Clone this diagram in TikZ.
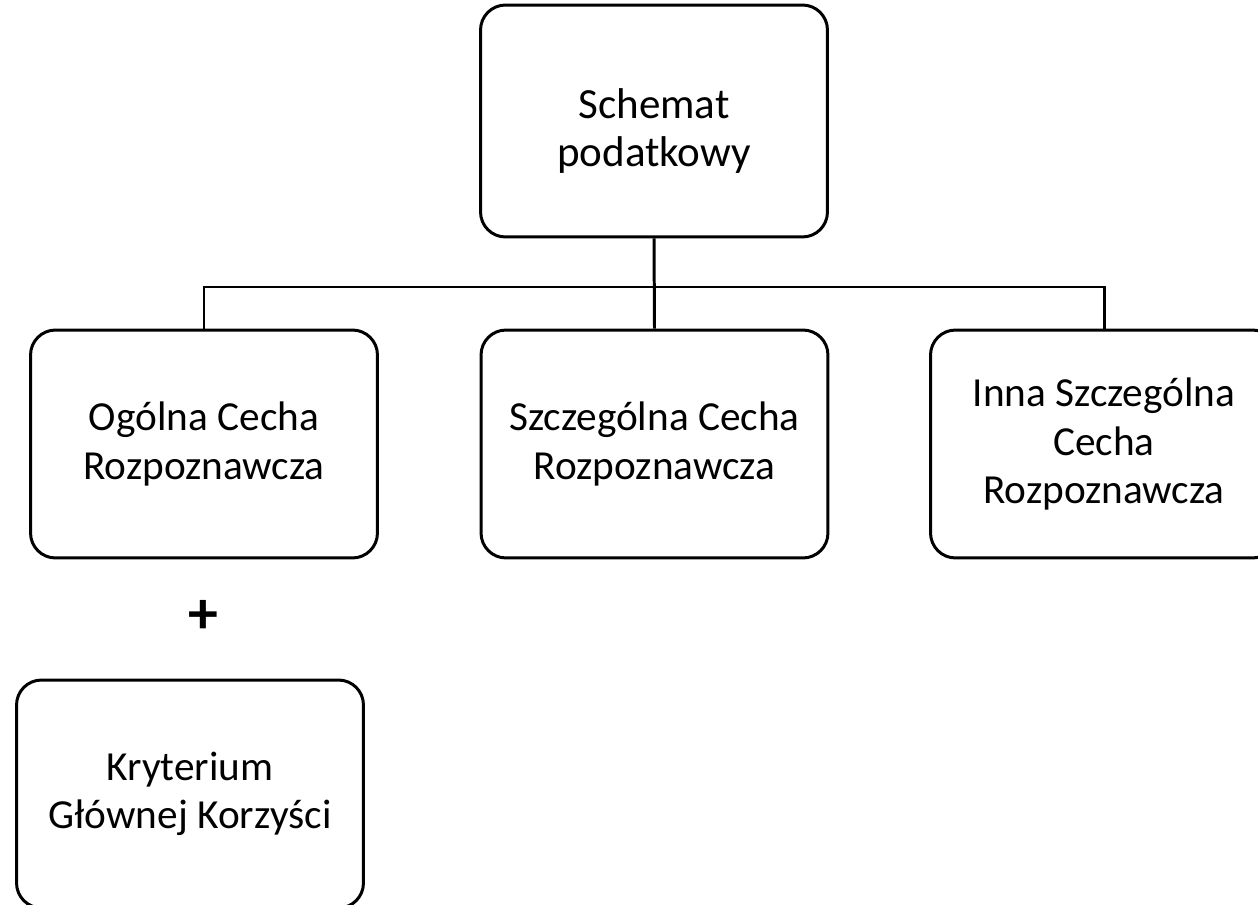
\documentclass[tikz,border=0pt]{standalone}
\usepackage{fontspec}
\setmainfont{Carlito}
\begin{document}
\begin{tikzpicture}[x=0.02cm,y=-0.02cm,line width=1.7pt,
  every node/.style={inner sep=2pt},
  box/.style={draw,rounded corners=0.5cm,minimum width=6.94cm,minimum height=4.56cm,
    align=center,font=\fontsize{23.5}{27.5}\selectfont}
]
    \useasboundingbox (0,0) rectangle (1258,905);
    \clip (0,0) rectangle (1258,905);
    \node[box,minimum height=4.64cm,
      label={[yshift=-0.2cm,align=center,font=\fontsize{24.5}{27}\selectfont]center:Schemat\\podatkowy}]
      (schemat) at (654,121) {};
    \node[box] (ogolna) at (204,444) {Ogólna Cecha\\Rozpoznawcza};
    \node[box] (szczeg) at (654.5,444) {Szczególna Cecha\\Rozpoznawcza};
    \node[box] (inna) at (1104,444) {Inna Szczególna\\Cecha\\Rozpoznawcza};
    \node (plus) at (203,617) {\fontsize{34}{34}\selectfont\bfseries +};
    \node[box] (kryt) at (190,794) {Kryterium\\Głównej Korzyści};
    \coordinate (bus) at (654,287);
    \draw (schemat.south) -- (szczeg.north);
    \draw (ogolna.north) |- (bus) -| (inna.north);
\end{tikzpicture}
\end{document}
